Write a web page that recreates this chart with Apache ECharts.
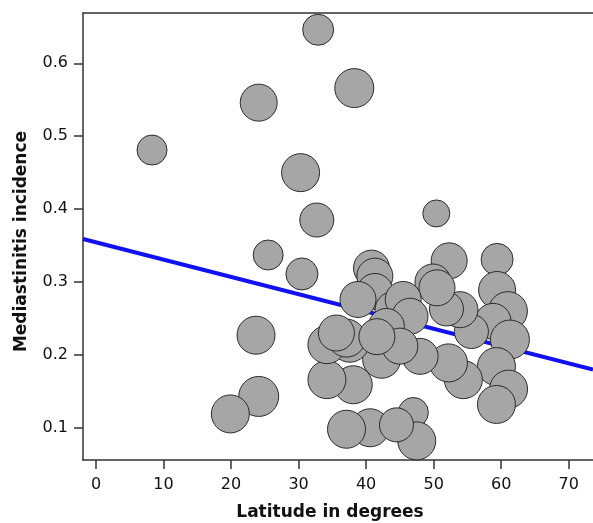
<!DOCTYPE html>
<html>
<head>
<meta charset="utf-8">
<script src="https://cdn.jsdelivr.net/npm/echarts@6/dist/echarts.min.js"></script>
<style>
    html, body { margin: 0; padding: 0; background: #fff; }
    #main { width: 593px; height: 523px; }
</style>
</head>
<body>
<div id="main"></div>
<script>
// latitude (degrees) of each study
var latitude = [
    32.9, 38.25, 24.1, 8.3, 30.3, 32.7, 50.4, 25.5, 30.5, 23.7, 24.1, 19.9,
    52.3, 59.4, 59.4, 61.0, 58.8, 61.3, 59.3, 61.1, 59.3, 54.4, 52.2, 55.6,
    53.9, 51.9, 49.9, 50.5, 48.0, 47.0, 47.5, 40.6, 37.1, 44.5, 38.1, 34.2,
    42.3, 37.6, 34.2, 40.8, 41.3, 41.3, 38.8, 44.0, 45.5, 46.5, 43.0, 37.1,
    35.6, 45.0, 41.6
];
// mediastinitis incidence of each study
var incidence = [
    0.646, 0.566, 0.546, 0.481, 0.450, 0.385, 0.394, 0.337, 0.311, 0.227, 0.143, 0.119,
    0.329, 0.331, 0.289, 0.260, 0.246, 0.221, 0.184, 0.153, 0.132, 0.166, 0.189, 0.232,
    0.262, 0.263, 0.300, 0.292, 0.198, 0.121, 0.082, 0.100, 0.098, 0.104, 0.159, 0.166,
    0.194, 0.216, 0.214, 0.319, 0.308, 0.287, 0.276, 0.262, 0.276, 0.253, 0.239, 0.223,
    0.230, 0.212, 0.225
];
// relative study weight (bubble size)
var weight = [
    15.5, 19.5, 18.5, 15, 19, 17, 13.5, 15, 16, 19, 20, 19,
    18, 16, 18.5, 19.5, 18, 19.5, 19, 19, 19, 19, 19, 17,
    18, 17, 18, 18, 18, 15, 19, 19, 19, 17, 19, 19,
    19, 19, 19, 18, 18, 18, 18, 18, 18, 18, 18, 19,
    18, 18, 18
];
// fitted regression line, ends at the plot edges
var fitLatitude = [-1.92, 73.6];
var fitIncidence = [0.359, 0.180];

var xTicks = [0, 10, 20, 30, 40, 50, 60, 70];
var yTicks = [0.1, 0.2, 0.3, 0.4, 0.5, 0.6];

var points = latitude.map(function (x, i) {
    return [x, incidence[i], weight[i]];
});
var fitLine = fitLatitude.map(function (x, i) {
    return [x, fitIncidence[i]];
});

var myChart = echarts.init(document.getElementById('main'));
myChart.setOption({
    animation: false,
    grid: {
        left: 83,
        right: 0,
        top: 13,
        bottom: 63,
        outerBoundsMode: 'none'
    },
    xAxis: [{
        type: 'value',
        min: -1.92,
        max: 73.6,
        name: 'Latitude in degrees',
        nameLocation: 'middle',
        nameGap: 44,
        nameTextStyle: {
            fontFamily: 'DejaVu Sans',
            fontWeight: 'bold',
            fontSize: 17,
            color: '#111',
            padding: [0, 16, 0, 0]
        },
        splitLine: { show: false },
        axisLine: {
            onZero: false,
            lineStyle: { color: '#333', width: 1.5 }
        },
        axisTick: {
            length: 9,
            customValues: xTicks,
            lineStyle: { color: '#333', width: 1.5 }
        },
        axisLabel: {
            customValues: xTicks,
            margin: 17,
            fontFamily: 'DejaVu Sans',
            fontSize: 16,
            color: '#111'
        }
    }, {
        type: 'value',
        position: 'top',
        min: -1.92,
        max: 73.6,
        splitLine: { show: false },
        axisLine: {
            show: true,
            onZero: false,
            lineStyle: { color: '#333', width: 1.5 }
        },
        axisTick: { show: false },
        axisLabel: { show: false }
    }],
    yAxis: {
        type: 'value',
        min: 0.0558,
        max: 0.669,
        name: 'Mediastinitis incidence',
        nameLocation: 'middle',
        nameGap: 53,
        nameTextStyle: {
            fontFamily: 'DejaVu Sans',
            fontWeight: 'bold',
            fontSize: 17,
            color: '#111',
            padding: [0, 10, 0, 0]
        },
        splitLine: { show: false },
        axisLine: {
            show: true,
            onZero: false,
            lineStyle: { color: '#333', width: 1.5 }
        },
        axisTick: {
            show: true,
            length: 9,
            customValues: yTicks,
            lineStyle: { color: '#333', width: 1.5 }
        },
        axisLabel: {
            customValues: yTicks,
            margin: 15,
            fontFamily: 'DejaVu Sans',
            fontSize: 16,
            color: '#111',
            formatter: function (v) {
                return v.toFixed(1);
            }
        }
    },
    series: [{
        type: 'line',
        data: fitLine,
        symbol: 'none',
        z: 1,
        lineStyle: { color: '#1010f0', width: 4 }
    }, {
        type: 'scatter',
        data: points,
        z: 2,
        symbolSize: function (d) {
            return d[2] * 2;
        },
        itemStyle: {
            color: '#a6a6a6',
            opacity: 1,
            borderColor: '#2a2a2a',
            borderWidth: 1
        }
    }]
});
</script>
</body>
</html>
